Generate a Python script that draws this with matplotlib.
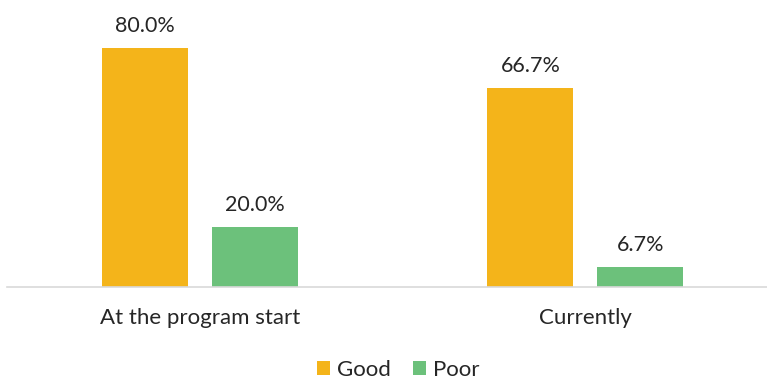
import matplotlib.pyplot as plt
import numpy as np

categories = ["At the program start", "Currently"]
good = [80.0, 66.7]
poor = [20.0, 6.7]
series_names = ["Good", "Poor"]

plt.rcParams['font.family'] = ['Lato', 'DejaVu Sans']

fig = plt.figure(figsize=(7.67, 3.79), dpi=100)
# axes: x 7..767 px, y baseline at 287 px from top
ax = fig.add_axes([7 / 767, (379 - 287) / 379, 760 / 767, 287 / 379])

x = np.arange(len(categories))
w = 0.223
off = 0.1427
b1 = ax.bar(x - off, good, w, color="#F4B41A", label=series_names[0])
b2 = ax.bar(x + off, poor, w, color="#6CC17B", label=series_names[1])

for bars, vals in [(b1, good), (b2, poor)]:
    for rect, v in zip(bars, vals):
        ax.annotate(f"{v:.1f}%", (rect.get_x() + rect.get_width() / 2, v),
                    xytext=(0, 22), textcoords="offset pixels",
                    ha="center", va="center", fontsize=15.5, color="#262626")

ax.set_xlim(-0.5006, 1.471)
ax.set_ylim(0, 96)
ax.set_yticks([])
ax.set_xticks(x)
ax.set_xticklabels(categories, fontsize=16, color="#262626")
ax.tick_params(axis="x", length=0, pad=15)
for s in ["top", "right", "left"]:
    ax.spines[s].set_visible(False)
ax.spines["bottom"].set_color("#D9D9D9")
ax.spines["bottom"].set_linewidth(1.2)

fig.legend(loc="center", bbox_to_anchor=(398 / 767, 1 - 370 / 379), ncol=2,
           frameon=False, fontsize=16, handlelength=0.6, handleheight=0.6,
           handletextpad=0.3, columnspacing=1.0, labelcolor="#262626")

fig.savefig("out.png", dpi=100)
